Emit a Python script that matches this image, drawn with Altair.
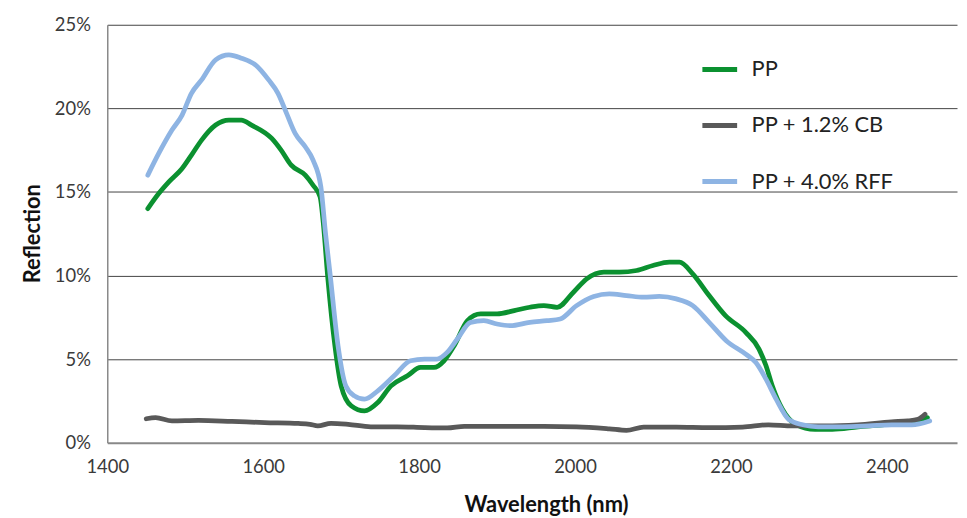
import altair as alt
import pandas as pd

# ---- data ----
pp_wl = [1452,1466,1479,1496,1508,1521,1539,1556,1572,1585,1611,1623,1636,1654,1664,1673,1677,1683,1692,1700,1713,1730,1747,1764,1785,1802,1819,1832,1845,1862,1879,1900,1922,1942,1960,1977,1998,2015,2037,2057,2079,2100,2121,2134,2151,2172,2193,2219,2236,2245,2253,2266,2283,2308,2330,2363,2401,2427,2445,2452]
pp_r = [14.0,14.9,15.6,16.4,17.2,18.1,19.0,19.3,19.3,19.0,18.2,17.5,16.6,16.0,15.4,14.7,13.2,9.8,5.8,3.4,2.2,1.9,2.4,3.4,4.0,4.5,4.5,4.9,5.8,7.3,7.7,7.7,7.9,8.1,8.2,8.1,9.0,9.8,10.2,10.2,10.3,10.6,10.8,10.8,10.1,8.8,7.6,6.6,5.6,4.6,3.4,2.0,1.1,0.8,0.8,0.95,1.1,1.25,1.4,1.5]

rff_wl = [1452,1466,1483,1496,1508,1521,1539,1556,1572,1590,1607,1619,1630,1641,1654,1664,1674,1680,1686,1696,1706,1717,1730,1747,1768,1789,1807,1823,1836,1849,1866,1883,1900,1917,1942,1964,1981,2002,2024,2044,2066,2088,2108,2130,2151,2172,2194,2219,2232,2245,2258,2274,2292,2312,2343,2376,2406,2432,2455]
rff_r = [16.0,17.3,18.7,19.6,20.9,21.7,22.9,23.2,23.0,22.6,21.7,20.9,19.7,18.5,17.7,16.9,15.3,12.5,10.0,5.8,3.4,2.8,2.6,3.1,4.0,4.9,5.0,5.0,5.4,6.2,7.2,7.3,7.1,7.0,7.2,7.3,7.4,8.2,8.75,8.9,8.8,8.7,8.75,8.6,8.2,7.2,6.1,5.3,4.8,3.8,2.6,1.4,1.07,0.95,0.95,1.0,1.07,1.07,1.3]

cb_wl = [1450,1462,1483,1517,1560,1602,1645,1660,1670,1687,1709,1738,1772,1807,1836,1858,1900,1960,2002,2044,2066,2088,2130,2172,2215,2248,2279,2321,2363,2406,2427,2440,2449]
cb_r = [1.43,1.5,1.3,1.33,1.27,1.2,1.15,1.1,1.0,1.16,1.1,0.95,0.95,0.9,0.88,0.98,0.97,0.97,0.95,0.83,0.74,0.93,0.93,0.9,0.93,1.07,1.0,1.0,1.07,1.25,1.3,1.4,1.7]

series_names = ["PP", "PP + 1.2% CB", "PP + 4.0% RFF"]
series_colors = ["#0b9130", "#595959", "#8eb4e3"]
x_ticks = [1400, 1600, 1800, 2000, 2200, 2400]
y_ticks = [0, 5, 10, 15, 20, 25]

FONT = "Lato"

def frame(wl, r, name):
    return pd.DataFrame({"wl": wl, "r": r, "series": name})

color = alt.Color(
    "series:N",
    scale=alt.Scale(domain=series_names, range=series_colors),
    legend=alt.Legend(
        title=None, orient="none", legendX=597, legendY=25,
        symbolType="stroke", symbolSize=1225, symbolStrokeWidth=5,
        labelFontSize=22, labelFont=FONT, labelColor="#222222",
        labelOffset=12, rowPadding=25.5, padding=0,
    ),
)

x = alt.X(
    "wl:Q",
    scale=alt.Scale(domain=[1400, 2490], nice=False, zero=False),
    axis=alt.Axis(
        values=x_ticks, grid=False, ticks=False, format="d", labelFlush=False,
        domainColor="#888888", domainWidth=2,
        labelFontSize=18.5, labelFont=FONT, labelColor="#3a3a3a", labelPadding=15,
        title="Wavelength (nm)", titleFontSize=22, titleFont=FONT,
        titleFontWeight="bold", titleColor="#111111",
        titleX=442, titleY=62, titleBaseline="middle",
    ),
)
y = alt.Y(
    "r:Q",
    scale=alt.Scale(domain=[0, 25], nice=False),
    axis=alt.Axis(
        values=y_ticks, ticks=False, labelExpr="datum.value + '%'", labelFlush=False,
        grid=True, gridColor="#444444", gridWidth=1,
        gridOpacity=alt.condition("datum.value === 0", alt.value(0), alt.value(1)),
        domainColor="#888888", domainWidth=1.5,
        labelFontSize=18.5, labelFont=FONT, labelColor="#3a3a3a", labelPadding=17,
        title="Reflection", titleFontSize=22, titleFont=FONT,
        titleFontWeight="bold", titleColor="#111111",
        titleX=-75, titleY=210, titleAngle=-90, titleBaseline="middle",
    ),
)

def line(df):
    return alt.Chart(df).mark_line(
        strokeWidth=4.8, interpolate="monotone", strokeCap="round", strokeJoin="round"
    ).encode(x=x, y=y, color=color)

chart = alt.layer(
    line(frame(pp_wl, pp_r, "PP")),
    line(frame(cb_wl, cb_r, "PP + 1.2% CB")),
    line(frame(rff_wl, rff_r, "PP + 4.0% RFF")),
).properties(
    width=856, height=421,
    autosize=alt.AutoSizeParams(type="none"),
    padding={"left": 100, "top": 15, "right": 2, "bottom": 74},
).configure_view(stroke=None)

chart.save("out.html", embed_options={"renderer": "svg", "actions": False})
